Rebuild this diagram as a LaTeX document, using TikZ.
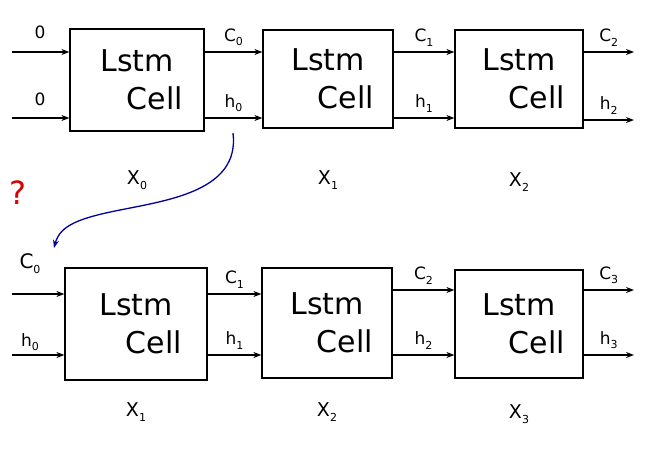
\documentclass[tikz,border=0pt]{standalone}
\usepackage{fontspec}
\setmainfont{DejaVu Sans}
\usetikzlibrary{arrows.meta}
\newcommand{\lsub}[2]{#1\raisebox{-0.25em}{\fontsize{11}{11}\selectfont #2}}
\begin{document}
\begin{tikzpicture}[x=1pt,y=-1pt,
  cell/.style={draw,line width=1.2pt,minimum width=134pt,minimum height=102pt,inner sep=0pt,align=center,font=\fontsize{30}{38}\selectfont},
  arr/.style={line width=1.3pt,-{Stealth[length=8pt,width=6pt]}},
  lab/.style={font=\fontsize{17}{18}\selectfont},
  xl/.style={font=\fontsize{19}{20}\selectfont}]
\useasboundingbox (0,0) rectangle (664,448);
% top row
\node[cell] (a1) at (137,80) {Lstm\\\hspace{1.2em}Cell};
\node[cell,minimum width=130pt,minimum height=98pt] (a2) at (328,79) {Lstm\\\hspace{1.2em}Cell};
\node[cell,minimum width=128pt,minimum height=98pt] (a3) at (519,79) {Lstm\\\hspace{1.2em}Cell};
\coordinate (i1) at (12,52); \coordinate (i2) at (12,118);
\coordinate (o1) at (634,52); \coordinate (o2) at (634,120);
\draw[arr] (i1) -- (a1.west|-i1);
\draw[arr] (i2) -- (a1.west|-i2);
\node[lab] (z1) at (40,32) {0};
\node[lab] (z2) at (40,99) {0};
\draw[arr] (a1.east|-i1) -- (a2.west|-i1) node[lab,midway,above=2pt] (c0) {\lsub{C}{0}};
\draw[arr] (a1.east|-i2) -- (a2.west|-i2) node[lab,midway,above=2pt] (h0) {\lsub{h}{0}};
\draw[arr] (a2.east|-i1) -- (a3.west|-i1) node[lab,midway,above=2pt] (c1) {\lsub{C}{1}};
\draw[arr] (a2.east|-i2) -- (a3.west|-i2) node[lab,midway,above=2pt] (h1) {\lsub{h}{1}};
\draw[arr] (a3.east|-o1) -- (o1) node[lab,midway,above=2pt] (c2) {\lsub{C}{2}};
\draw[arr] (a3.east|-o2) -- (o2) node[lab,midway,above=2pt] (h2) {\lsub{h}{2}};
\node[xl] (x0) at (137,180) {\lsub{X}{0}};
\node[xl] (x1) at (328,180) {\lsub{X}{1}};
\node[xl] (x2) at (519,182) {\lsub{X}{2}};
% bottom row
\node[cell,minimum width=142pt,minimum height=112pt] (b1) at (136,324) {Lstm\\\hspace{1.2em}Cell};
\node[cell,minimum width=130pt,minimum height=110pt] (b2) at (327,323) {Lstm\\\hspace{1.2em}Cell};
\node[cell,minimum width=128pt,minimum height=108pt] (b3) at (519,324) {Lstm\\\hspace{1.2em}Cell};
\coordinate (j1) at (12,294); \coordinate (j2) at (12,355);
\coordinate (p1) at (634,290); \coordinate (p2) at (634,355);
\draw[arr] (j1) -- (b1.west|-j1);
\draw[arr] (j2) -- (b1.west|-j2);
\node[lab,font=\fontsize{20}{20}\selectfont] (bc0) at (30,264) {\lsub{C}{0}};
\node[lab] (bh0) at (30,342) {\lsub{h}{0}};
\draw[arr] (b1.east|-j1) -- (b2.west|-j1) node[lab,midway,above=2pt] (d1) {\lsub{C}{1}};
\draw[arr] (b1.east|-j2) -- (b2.west|-j2) node[lab,midway,above=2pt] (e1) {\lsub{h}{1}};
\draw[arr] (b2.east|-p1) -- (b3.west|-p1) node[lab,midway,above=2pt] (d2) {\lsub{C}{2}};
\draw[arr] (b2.east|-p2) -- (b3.west|-p2) node[lab,midway,above=2pt] (e2) {\lsub{h}{2}};
\draw[arr] (b3.east|-p1) -- (p1) node[lab,midway,above=2pt] (d3) {\lsub{C}{3}};
\draw[arr] (b3.east|-p2) -- (p2) node[lab,midway,above=2pt] (e3) {\lsub{h}{3}};
\node[xl] (y1) at (136,412) {\lsub{X}{1}};
\node[xl] (y2) at (327,412) {\lsub{X}{2}};
\node[xl] (y3) at (519,414) {\lsub{X}{3}};
% blue curve and question mark
\coordinate (s) at (233,133);
\coordinate (t) at (54,248);
\draw[line width=1.3pt,color=blue!60!black,-{Stealth[length=8pt,width=6pt]}] (s) .. controls (240,190) and (170,200) .. (120,210) .. controls (80,218) and (60,225) .. (t);
\node[text=red!85!black,font=\fontsize{32}{32}\selectfont] (q) at (18,193) {?};
\end{tikzpicture}
\end{document}
